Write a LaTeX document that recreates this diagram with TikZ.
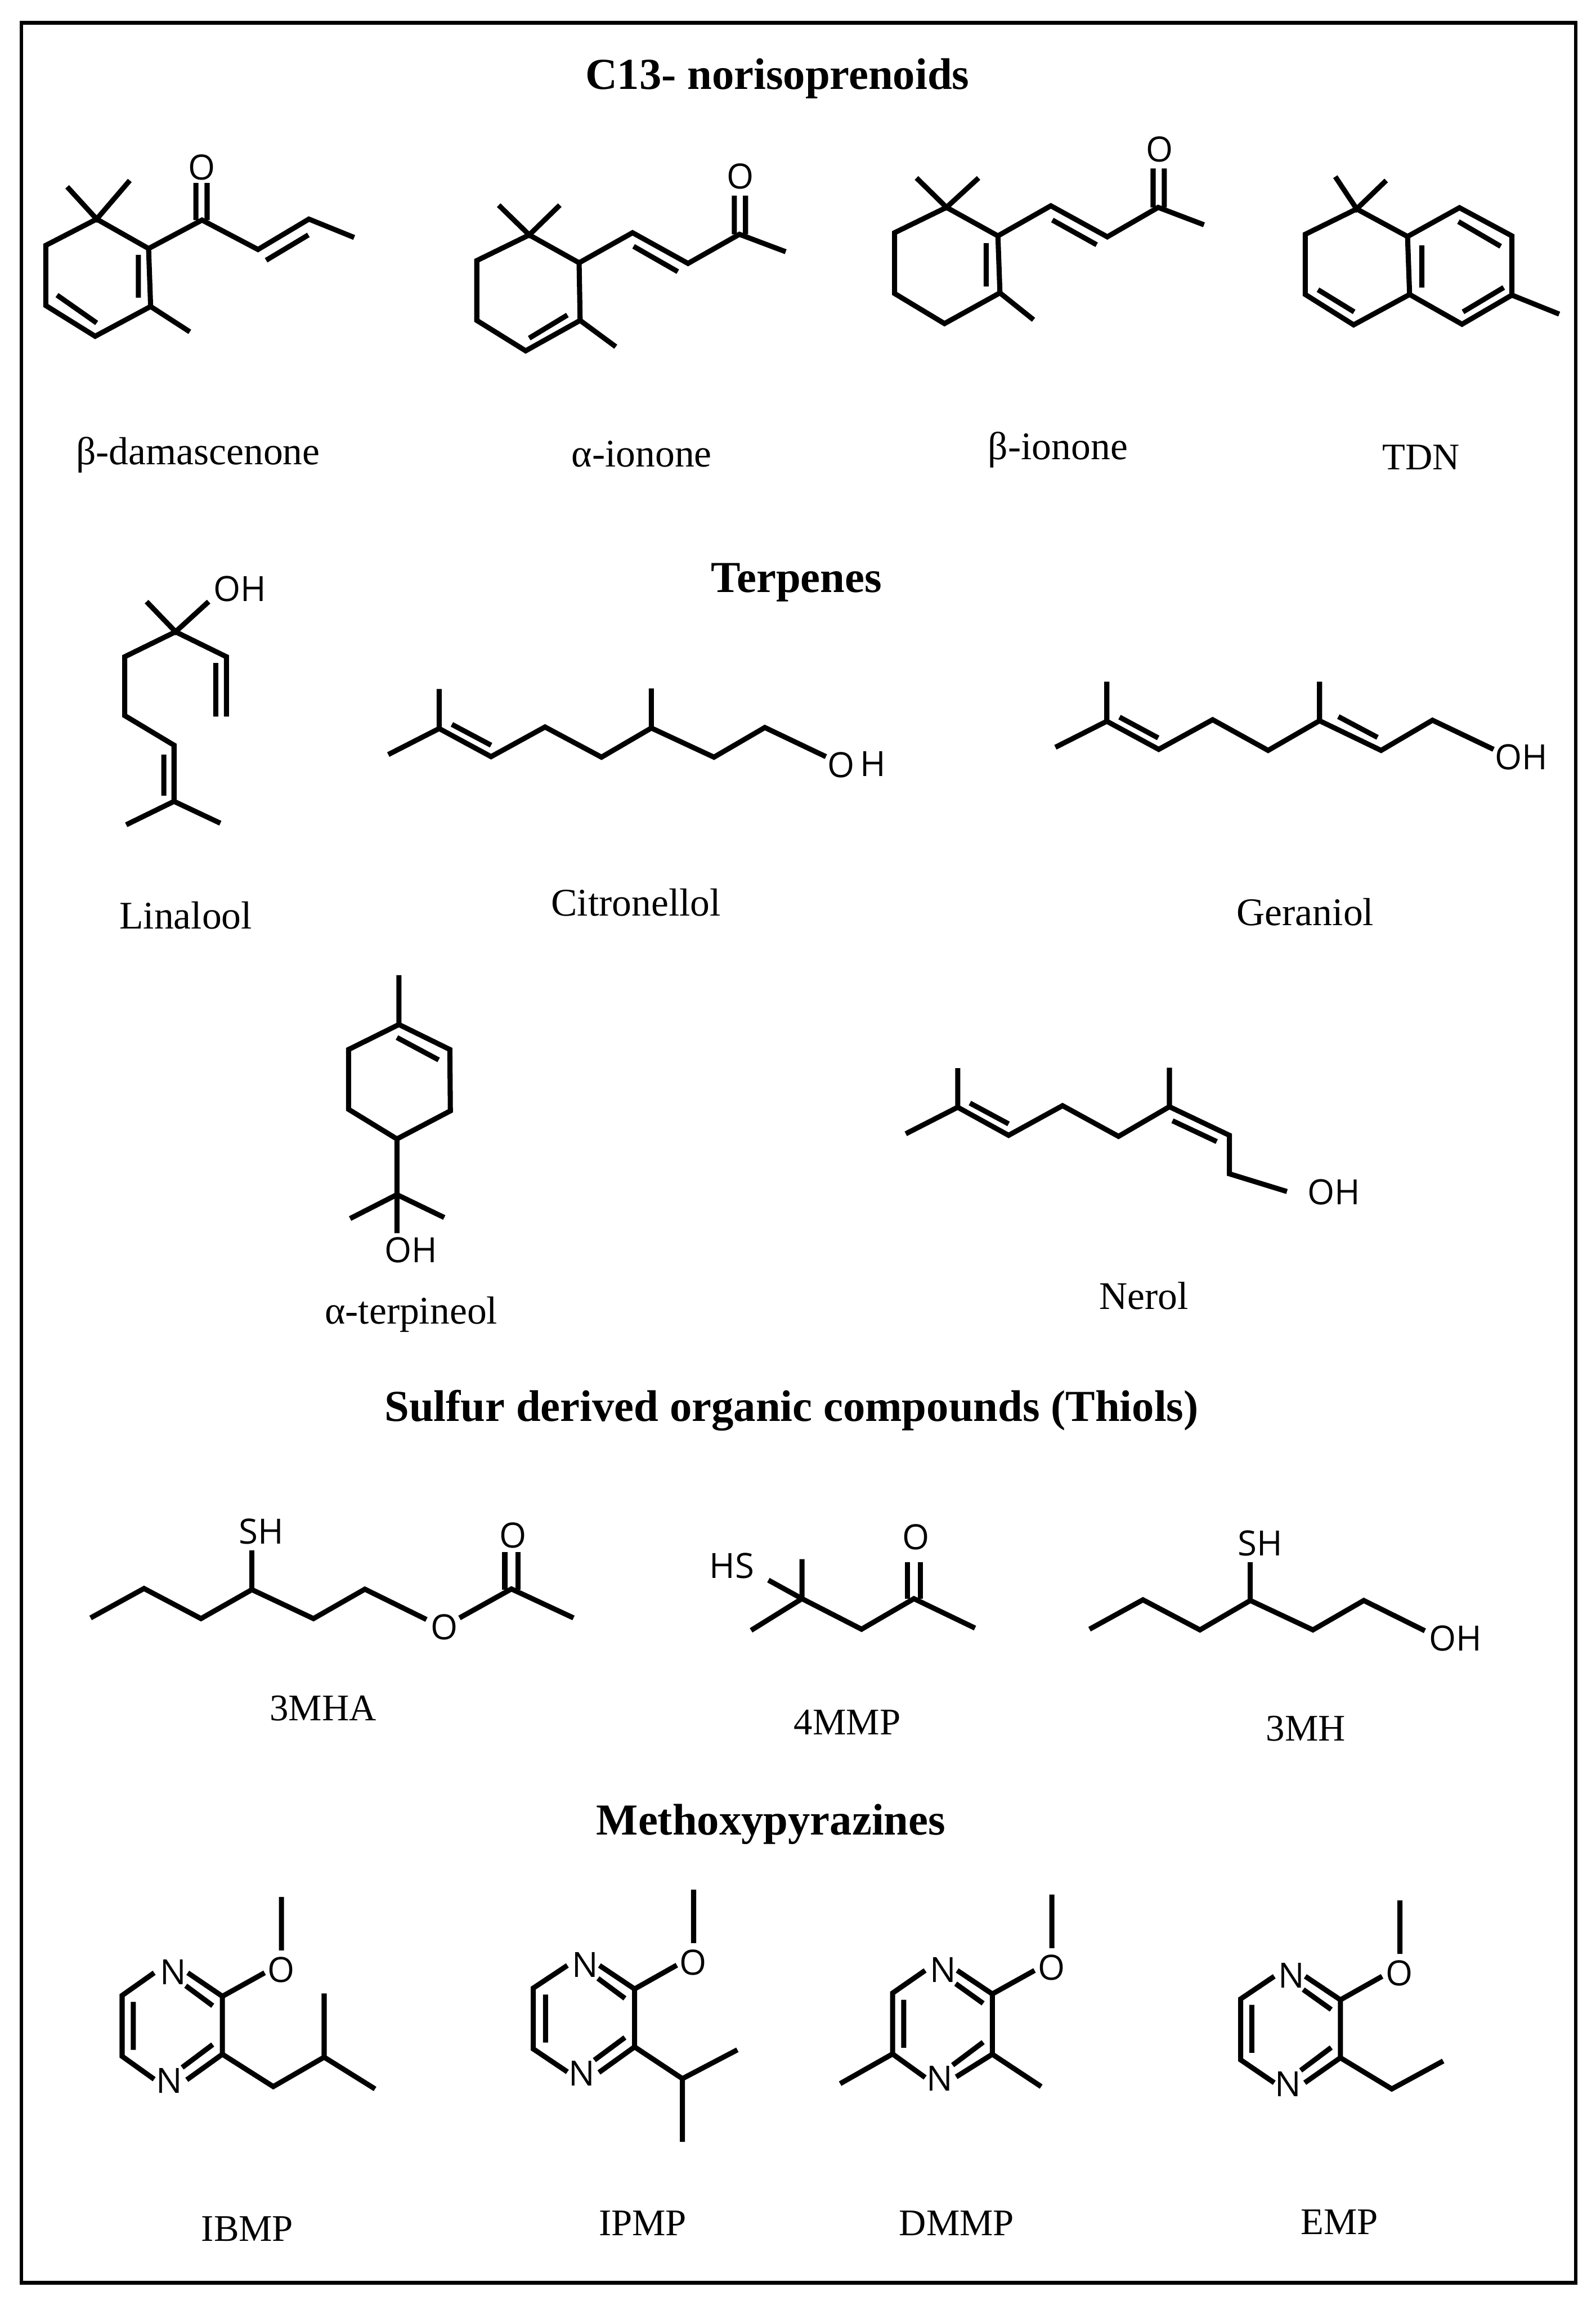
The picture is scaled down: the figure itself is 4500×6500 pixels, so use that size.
\documentclass[tikz,border=0pt]{standalone}
\usepackage{fontspec}
\setmainfont{Liberation Serif}
\newfontfamily\atomfont{Open Sans}
\tikzset{
  bond/.style={line width=3.6pt,black,line join=miter,miter limit=10},
  frameline/.style={line width=2.6pt,black},
  lab/.style={anchor=base,inner sep=0pt,font=\fontsize{26.5}{30}\selectfont},
  labw/.style={anchor=base,inner sep=0pt,font=\fontsize{27.6}{31}\selectfont},
  ttl/.style={anchor=base,inner sep=0pt,font=\fontsize{31.2}{35}\selectfont\bfseries},
  atom/.style={anchor=base,inner sep=0pt,font=\atomfont\fontsize{24.5}{28}\selectfont},
  cropa/.style={xscale=1.43495,yscale=0.89286},
  cropb/.style={xscale=1.43495,yscale=1.46684},
  cropc/.style={xscale=1.43495,yscale=0.63776},
  cropd/.style={xscale=1.43495,yscale=0.82908}
}
\begin{document}
\begin{tikzpicture}[x=0.25pt,y=-0.25pt]
\useasboundingbox (0,0) rectangle (4500,6500);
\fill[white] (0,0) rectangle (4500,6500);
\draw[frameline] (60,64) rectangle (4443,6437);

\node[ttl] (t1) at (2192,252) {C13- norisoprenoids};
\node[ttl] (t2) at (2246,1670) {Terpenes};
\node[ttl] (t3) at (2232,4008) {Sulfur derived organic compounds (Thiols)};
\node[ttl] (t4) at (2174,5174) {Methoxypyrazines};

% ---- top left
\begin{scope}[cropa]
% beta-damascenone
\draw[bond] (190,692)--(90,775)--(90,965)--(187,1062)--(296,968)--(292,785)--cycle;
\draw[bond] (132,590)--(190,692)--(255,570);
\draw[bond] (272,805)--(272,940) (112,932)--(190,1020) (296,968)--(373,1048);
\draw[bond] (292,785)--(397,695)--(507,788)--(607,692)--(696,750);
\draw[bond] (385,695)--(385,578) (407,695)--(407,578) (523,822)--(606,742);
\node[atom] (o1) at (396,568) {O};
\node[labw] (l1) at (389,1468) {β-damascenone};
% alpha-ionone
\draw[bond] (1040,742)--(937,823)--(937,1012)--(1033,1108)--(1140,1012)--(1138,830)--cycle;
\draw[bond] (980,648)--(1040,742)--(1100,648);
\draw[bond] (1040,1068)--(1115,995) (1140,1012)--(1210,1095);
\draw[bond] (1138,830)--(1243,735)--(1352,832)--(1453,740)--(1544,795);
\draw[bond] (1245,778)--(1332,858) (1443,740)--(1443,618) (1465,740)--(1465,618);
\node[atom] (o2) at (1455,597) {O};
\node[labw] (l2) at (1261,1474) {α-ionone};
\end{scope}

% ---- top right
\begin{scope}[shift={(2250,0)},cropa]
% beta-ionone
\draw[bond] (292,655)--(190,735)--(190,927)--(288,1022)--(397,925)--(393,745)--cycle;
\draw[bond] (233,562)--(292,655)--(355,562);
\draw[bond] (370,768)--(370,905) (397,925)--(463,1010);
\draw[bond] (393,745)--(497,650)--(608,748)--(708,655)--(798,710);
\draw[bond] (500,695)--(587,773) (698,655)--(698,532) (720,655)--(720,532);
\node[atom] (o3) at (711,511) {O};
\node[labw] (l3) at (511,1452) {β-ionone};
% TDN
\draw[bond] (1098,660)--(997,740)--(997,930)--(1092,1026)--(1202,930)--(1198,747)--cycle;
\draw[bond] (1198,747)--(1300,656)--(1403,745)--(1403,932)--(1305,1024)--(1202,930);
\draw[bond] (1056,558)--(1098,660)--(1156,570) (1403,932)--(1496,992);
\draw[bond] (1226,775)--(1226,908) (1022,915)--(1093,985) (1298,700)--(1381,778) (1307,985)--(1387,908);
\node[lab] (l4) at (1225,1483) {TDN};
\end{scope}

% ---- terpenes left
\begin{scope}[shift={(0,1500)},cropb]
% linalool
\draw[bond] (288,134)--(345,192)--(410,134);
\draw[bond] (345,192)--(445,240)--(445,355) (424,252)--(424,355);
\draw[bond] (345,192)--(245,240)--(245,353)--(342,410)--(342,518);
\draw[bond] (322,428)--(322,507) (248,563)--(342,518)--(433,560);
\node[atom] (oh1) at (471,133) {OH};
\node[labw] (l5) at (365,763) {Linalool};
% citronellol
\draw[bond] (763,428)--(863,378)--(965,432)--(1071,375)--(1182,433)--(1280,377)--(1403,433)--(1503,376)--(1623,432);
\draw[bond] (863,378)--(863,302) (1280,377)--(1280,301) (888,370)--(965,410);
\node[atom] (o6) at (1653,472) {O};
\node[atom] (h6) at (1715,470) {H};
\node[labw] (l6) at (1250,738) {Citronellol};
% alpha-terpineol
\draw[bond] (784,947)--(884,995)--(885,1113)--(780,1167)--(685,1110)--(685,995)--cycle;
\draw[bond] (784,947)--(784,852) (780,972)--(862,1015) (780,1167)--(780,1348);
\draw[bond] (688,1320)--(780,1274)--(873,1318);
\node[atom] (oh7) at (808,1405) {OH};
\node[labw] (l7) at (808,1522) {α-terpineol};
\end{scope}

% ---- terpenes right
\begin{scope}[shift={(2250,1500)},cropb]
% geraniol
\draw[bond] (506,414)--(607,364)--(709,418)--(815,361)--(924,420)--(1025,363)--(1146,420)--(1247,362)--(1367,418);
\draw[bond] (607,364)--(607,288) (1025,363)--(1025,288) (632,356)--(708,396) (1062,355)--(1139,395);
\node[atom] (oh8) at (1422,457) {OH};
\node[labw] (l8) at (997,757) {Geraniol};
% nerol
\draw[bond] (212,1157)--(314,1106)--(414,1160)--(520,1103)--(630,1162)--(730,1105)--(848,1160)--(848,1234)--(961,1268);
\draw[bond] (314,1106)--(314,1031) (730,1105)--(730,1030) (338,1098)--(414,1138) (736,1132)--(823,1172);
\node[atom] (oh9) at (1053,1293) {OH};
\node[labw] (l9) at (680,1494) {Nerol};
\end{scope}

% ---- thiols left
\begin{scope}[shift={(0,4100)},cropc]
% 3MHA
\draw[bond] (178,725)--(283,595)--(395,728)--(495,600)--(616,728)--(717,598)--(838,732);
\draw[bond] (495,600)--(495,427);
\node[atom] (sh1) at (513,398) {SH};
\node[atom] (oa) at (873,820) {O};
\draw[bond] (903,725)--(1005,597)--(1127,725);
\draw[bond] (992,600)--(992,433) (1018,600)--(1018,433);
\node[atom] (ob) at (1008,414) {O};
\node[lab] (l10) at (635,1178) {3MHA};
% 4MMP
\node[atom] (hs) at (1438,550) {HS};
\draw[bond] (1510,558)--(1576,640) (1476,780)--(1576,640);
\draw[bond] (1576,465)--(1576,640)--(1693,775)--(1796,640)--(1916,770);
\draw[bond] (1783,640)--(1783,478) (1809,640)--(1809,478);
\node[atom] (oc) at (1800,422) {O};
\node[lab] (l11) at (1665,1240) {4MMP};
\end{scope}

% ---- thiols right
\begin{scope}[shift={(2250,4100)},cropc]
\draw[bond] (573,775)--(678,645)--(790,778)--(889,648)--(1012,778)--(1112,648)--(1232,782);
\draw[bond] (889,648)--(889,478);
\node[atom] (sh2) at (908,449) {SH};
\node[atom] (oh12) at (1292,870) {OH};
\node[lab] (l12) at (998,1268) {3MH};
\end{scope}

% ---- pyrazines left
\begin{scope}[shift={(0,5200)},cropd]
% IBMP
\draw[bond] (553,180)--(553,362) (437,518)--(520,438);
\node[atom] (ip1) at (552,470) {O};
\node[atom] (n1) at (340,478) {N};
\node[atom] (n2) at (333,848) {N};
\draw[bond] (303,438)--(240,515)--(240,722)--(303,800);
\draw[bond] (369,438)--(437,518)--(437,715)--(367,802);
\draw[bond] (262,537)--(262,700) (365,482)--(418,550) (358,760)--(418,682);
\draw[bond] (437,715)--(537,825)--(637,725)--(737,833) (637,725)--(637,508);
\node[lab] (l13) at (486,1350) {IBMP};
% IPMP
\draw[bond] (1363,155)--(1363,337) (1247,493)--(1330,412);
\node[atom] (ip2) at (1362,445) {O};
\node[atom] (n3) at (1150,453) {N};
\node[atom] (n4) at (1143,823) {N};
\draw[bond] (1115,413)--(1048,490)--(1048,697)--(1115,775);
\draw[bond] (1178,413)--(1247,493)--(1247,690)--(1177,777);
\draw[bond] (1072,512)--(1072,675) (1175,457)--(1228,525) (1168,735)--(1228,658);
\draw[bond] (1247,690)--(1341,798)--(1449,700) (1341,798)--(1341,1013);
\node[lab] (l14) at (1263,1332) {IPMP};
\end{scope}

% ---- pyrazines right
\begin{scope}[shift={(2250,5200)},cropd]
% DMMP
\draw[bond] (499,172)--(499,354) (382,510)--(465,430);
\node[atom] (ip3) at (498,462) {O};
\node[atom] (n5) at (285,470) {N};
\node[atom] (n6) at (279,840) {N};
\draw[bond] (250,430)--(186,507)--(186,714)--(250,794);
\draw[bond] (313,430)--(382,510)--(382,715)--(311,792);
\draw[bond] (208,530)--(208,693) (310,475)--(364,542) (304,752)--(364,674);
\draw[bond] (186,714)--(83,815) (382,715)--(478,825);
\node[lab] (l15) at (312,1332) {DMMP};
% EMP
\draw[bond] (1183,192)--(1183,374) (1066,530)--(1148,450);
\node[atom] (ip4) at (1182,482) {O};
\node[atom] (n7) at (970,490) {N};
\node[atom] (n8) at (963,858) {N};
\draw[bond] (936,450)--(870,527)--(870,734)--(936,812);
\draw[bond] (997,450)--(1066,530)--(1066,727)--(996,812);
\draw[bond] (892,547)--(892,710) (993,495)--(1048,563) (988,770)--(1048,692);
\draw[bond] (1066,727)--(1167,833)--(1268,738);
\node[lab] (l16) at (1064,1327) {EMP};
\end{scope}
\end{tikzpicture}
\end{document}
